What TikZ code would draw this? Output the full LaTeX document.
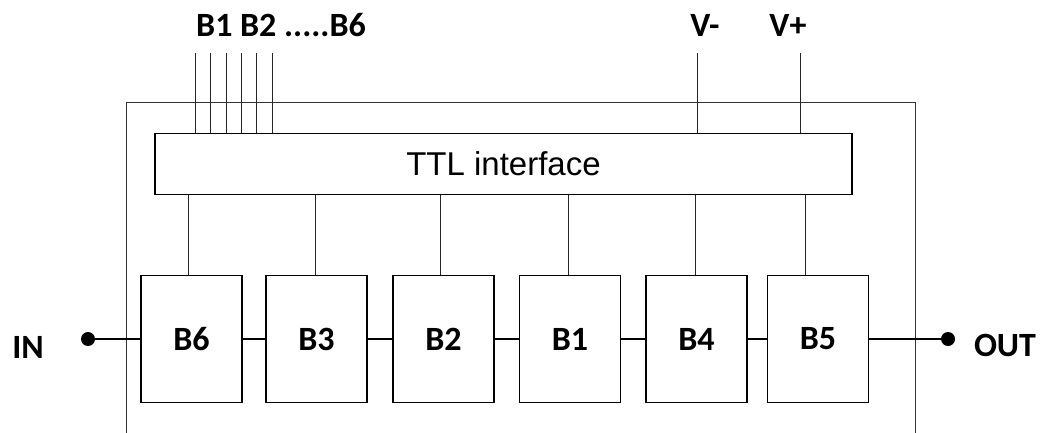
\documentclass[tikz,border=0pt]{standalone}
\usepackage{fontspec}
\setmainfont{Carlito}
\newfontfamily\ttlfont{Liberation Sans}
\usepackage{tikz}
\usetikzlibrary{calc}
\newcommand*{\blkwd }{101pt}
\newcommand*{\blkht }{127pt}
\newcommand*{\chainy}{339}
\newcommand*{\pintop}{53}
\newcommand*{\lblfont}{\bfseries\fontsize{34}{40}\selectfont}

\begin{document}
\begin{tikzpicture}[x=1pt, y=-1pt,
    blk/.style  = {draw, line width=1.6pt, minimum width=\blkwd, minimum height=\blkht, inner sep=0pt, font=\lblfont},
    lbl/.style  = {inner sep=0pt, font=\lblfont},
    wire/.style = {line width=0.9pt, black!85},
    link/.style = {line width=1.6pt},
    term/.style = {circle, fill, inner sep=0pt, minimum size=14pt}]
    \useasboundingbox (0,0) rectangle (1040,433);
    % housing, open at the bottom
    \draw [line width=0.9pt, black!80] (126,433) -- (126,102) -- (915,102) -- (915,433);
        \node [draw, line width=1.6pt, minimum width=697pt, minimum height=61pt, inner sep=0pt, font=\ttlfont\fontsize{33}{38}\selectfont] (ttl) at (503.5,164) {TTL interface};
        \node [blk] (b6) at (191.5,\chainy) {B6};
        \node [blk] (b3) at (316.5,\chainy) {B3};
        \node [blk] (b2) at (443.5,\chainy) {B2};
        \node [blk] (b1) at (570.0,\chainy) {B1};
        \node [blk] (b4) at (696.5,\chainy) {B4};
        \node [blk] (b5) at (818.0,\chainy) {B5};
        \node [term] (in)  at (88,\chainy)  {};
        \node [term] (out) at (948,\chainy) {};
        \node [lbl] (inlbl)  at (28,347)   {IN};
        \node [lbl] (outlbl) at (1005,345) {OUT};
        \node [lbl] (bits) at (281,25) {B1 B2 .....B6};
        \node [lbl] (vneg) at (705,25) {V-};
        \node [lbl] (vpos) at (788,25) {V+};
    % bit lines and supplies
    \foreach \i/\x in {1/195, 2/210.5, 3/226, 4/241, 5/256.5, 6/272}{
        \coordinate (p\i) at (\x,\pintop);
        \draw [wire] (p\i) -- (p\i |- ttl.north);
    }
    \coordinate (pneg) at (697,\pintop);
    \coordinate (ppos) at (800,\pintop);
    \draw [wire] (pneg) -- (pneg |- ttl.north);
    \draw [wire] (ppos) -- (ppos |- ttl.north);
    % control taps to the stages
    \foreach \b/\x in {b6/188, b3/315, b2/440, b1/568, b4/695, b5/805}{
        \coordinate (t\b) at (\x,0);
        \draw [wire] (ttl.south -| t\b) -- (\b.north -| t\b);
    }
    % signal chain
    \draw [link] (in) -- (b6.west);
    \draw [link] (b6.east) -- (b3.west);
    \draw [link] (b3.east) -- (b2.west);
    \draw [link] (b2.east) -- (b1.west);
    \draw [link] (b1.east) -- (b4.west);
    \draw [link] (b4.east) -- (b5.west);
    \draw [link] (b5.east) -- (out);
\end{tikzpicture}
\end{document}
